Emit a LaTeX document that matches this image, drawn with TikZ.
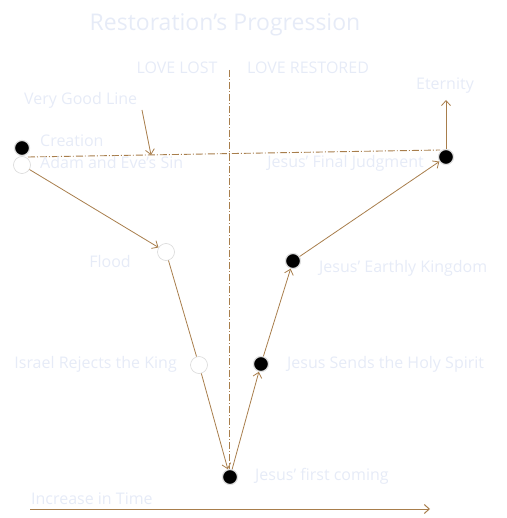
\documentclass[tikz,border=0pt]{standalone}
\usepackage{fontspec}
\setmainfont{Open Sans}
\usetikzlibrary{arrows.meta}
\definecolor{lc}{RGB}{168,126,76}
\definecolor{tc}{RGB}{230,235,247}
\begin{document}
\begin{tikzpicture}[x=1pt,y=-1pt,
  lbl/.style={text=tc,font=\fontsize{16}{18}\selectfont,inner sep=0pt},
  full/.style={circle,fill=black,draw=black!12,line width=1.2pt,minimum size=15pt,inner sep=0pt},
  open/.style={circle,fill=white,draw=black!15,line width=0.6pt,minimum size=17pt,inner sep=0pt},
  con/.style={draw=lc,line width=0.8pt,-{Straight Barb[length=5pt,width=9pt]}},
  seg/.style={draw=lc,line width=0.8pt},
  dd/.style={draw=lc,line width=0.9pt,dash pattern=on 7pt off 2pt on 1pt off 2pt}]
\useasboundingbox (0,0) rectangle (506,518);
\node[lbl,font=\fontsize{23}{26}\selectfont] (title) at (225,25) {Restoration’s Progression};
\node[lbl] (lost) at (177,68) {LOVE LOST};
\node[lbl] (rest) at (308,68) {LOVE RESTORED};
\coordinate (vt) at (229,70);
\coordinate (vb) at (229,470);
\draw[dd] (vt) -- (vb);
\coordinate (hl) at (28,157);
\coordinate (hr) at (440,150);
\draw[dd] (hl) -- (hr);
% nodes
\node[full] (cre) at (22,148) {};
\node[open] (adam) at (22,165) {};
\node[open] (flood) at (166,252) {};
\node[open] (isr) at (199,365) {};
\node[full] (first) at (230,477) {};
\node[full] (holy) at (261,364) {};
\node[full] (earth) at (293,261) {};
\node[full] (final) at (446,157) {};
% labels
\node[lbl,anchor=west] (vgl) at (24,100) {Very Good Line};
\node[lbl,anchor=west] at (40,141) {Creation};
\node[lbl,anchor=west] at (40,163) {Adam and Eve’s Sin};
\node[lbl,anchor=east] at (131,261) {Flood};
\node[lbl,anchor=east] at (177,364) {Israel Rejects the King};
\node[lbl,anchor=west] at (287,364) {Jesus Sends the Holy Spirit};
\node[lbl,anchor=west] at (319,268) {Jesus’ Earthly Kingdom};
\node[lbl,anchor=east] at (424,163) {Jesus’ Final Judgment};
\node[lbl] (eter) at (445,86) {Eternity};
\node[lbl,anchor=west] at (255,476) {Jesus’ first coming};
\node[lbl,anchor=west] (inc) at (31,499) {Increase in Time};
% connectors
\coordinate (vga) at (142,110);
\coordinate (vgb) at (151,155);
\draw[con] (vga) -- (vgb);
\draw[con] (adam) -- (flood);
\draw[seg] (flood) -- (isr);
\draw[con] (isr) -- (first);
\draw[con] (first) -- (holy);
\draw[con] (holy) -- (earth);
\draw[con] (earth) -- (final);
\coordinate (et) at (446,100);
\draw[con] (final) -- (et);
\coordinate (ta) at (30,509);
\coordinate (tb) at (430,509);
\draw[con,line width=1pt] (ta) -- (tb);
\end{tikzpicture}
\end{document}
